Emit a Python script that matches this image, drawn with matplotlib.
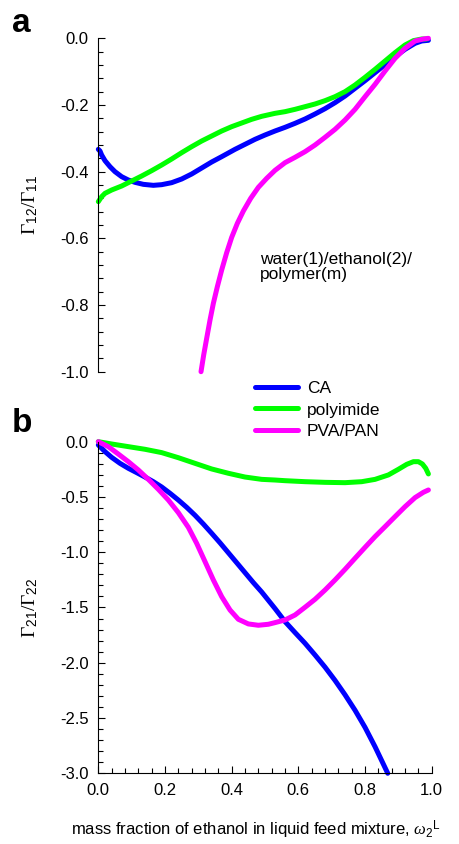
import matplotlib.pyplot as plt
from matplotlib.ticker import MultipleLocator

plt.rcParams['font.family'] = ['Liberation Sans', 'DejaVu Sans']
plt.rcParams['mathtext.fontset'] = 'custom'
plt.rcParams['mathtext.rm'] = 'Liberation Serif'
plt.rcParams['mathtext.it'] = 'Liberation Serif:italic'
plt.rcParams['mathtext.sf'] = 'Liberation Sans'

# panel a: Gamma12/Gamma11 vs ethanol mass fraction
ca_a_x = [0.0, 0.005, 0.01, 0.02, 0.035, 0.05, 0.07, 0.09, 0.11, 0.135, 0.165, 0.19,
          0.22, 0.25, 0.28, 0.31, 0.34, 0.37, 0.41, 0.44, 0.47, 0.50, 0.53, 0.56,
          0.59, 0.62, 0.65, 0.68, 0.71, 0.74, 0.77, 0.80, 0.83, 0.86, 0.89, 0.92,
          0.95, 0.97, 0.99]
ca_a_y = [-0.333, -0.338, -0.35, -0.367, -0.385, -0.40, -0.415, -0.425, -0.432, -0.438,
          -0.441, -0.439, -0.433, -0.422, -0.407, -0.389, -0.371, -0.355, -0.333, -0.318,
          -0.303, -0.29, -0.278, -0.267, -0.255, -0.242, -0.227, -0.211, -0.193, -0.173,
          -0.15, -0.127, -0.103, -0.079, -0.055, -0.033, -0.015, -0.008, -0.006]

pi_a_x = [0.0, 0.01, 0.02, 0.04, 0.07, 0.10, 0.13, 0.16, 0.19, 0.22, 0.25, 0.28,
          0.31, 0.34, 0.37, 0.40, 0.43, 0.46, 0.49, 0.53, 0.56, 0.59, 0.62, 0.65,
          0.68, 0.71, 0.74, 0.77, 0.80, 0.83, 0.86, 0.89, 0.92, 0.945, 0.97, 0.985]
pi_a_y = [-0.49, -0.475, -0.465, -0.455, -0.443, -0.428, -0.413, -0.397, -0.38, -0.362,
          -0.343, -0.325, -0.308, -0.293, -0.278, -0.265, -0.254, -0.243, -0.234, -0.225,
          -0.22, -0.213, -0.205, -0.197, -0.187, -0.175, -0.16, -0.14, -0.117, -0.093,
          -0.068, -0.043, -0.02, -0.007, -0.002, -0.002]

pp_a_x = [0.308, 0.316, 0.325, 0.335, 0.345, 0.357, 0.37, 0.385, 0.40, 0.417, 0.435,
          0.457, 0.48, 0.505, 0.53, 0.56, 0.59, 0.62, 0.65, 0.68, 0.71, 0.74, 0.77,
          0.80, 0.83, 0.86, 0.89, 0.92, 0.95, 0.975, 0.99]
pp_a_y = [-1.0, -0.95, -0.90, -0.845, -0.795, -0.745, -0.695, -0.643, -0.597, -0.555,
          -0.518, -0.48, -0.447, -0.42, -0.396, -0.373, -0.357, -0.34, -0.32, -0.297,
          -0.273, -0.245, -0.213, -0.175, -0.138, -0.098, -0.06, -0.03, -0.008, -0.002, 0.0]

# panel b: Gamma21/Gamma22
ca_b_x = [0.0, 0.02, 0.04, 0.065, 0.09, 0.115, 0.14, 0.165, 0.19, 0.215, 0.24, 0.265,
          0.29, 0.315, 0.34, 0.365, 0.39, 0.415, 0.44, 0.465, 0.49, 0.53, 0.56, 0.59,
          0.62, 0.65, 0.68, 0.71, 0.74, 0.77, 0.80, 0.83, 0.868]
ca_b_y = [-0.03, -0.09, -0.142, -0.196, -0.241, -0.28, -0.32, -0.362, -0.41, -0.467,
          -0.528, -0.594, -0.666, -0.745, -0.829, -0.915, -1.005, -1.095, -1.185, -1.275,
          -1.36, -1.51, -1.628, -1.727, -1.824, -1.93, -2.04, -2.16, -2.29, -2.43,
          -2.585, -2.76, -3.0]

pi_b_x = [0.0, 0.04, 0.09, 0.14, 0.19, 0.24, 0.29, 0.34, 0.39, 0.44, 0.49, 0.53,
          0.56, 0.62, 0.68, 0.74, 0.79, 0.83, 0.87, 0.90, 0.925, 0.945, 0.96, 0.972,
          0.982, 0.99]
pi_b_y = [0.0, -0.021, -0.045, -0.069, -0.099, -0.145, -0.196, -0.247, -0.286, -0.32,
          -0.341, -0.347, -0.353, -0.362, -0.368, -0.371, -0.362, -0.341, -0.301, -0.25,
          -0.205, -0.181, -0.181, -0.202, -0.241, -0.292]

pp_b_x = [0.0, 0.03, 0.06, 0.09, 0.12, 0.15, 0.18, 0.21, 0.24, 0.27, 0.295, 0.32,
          0.345, 0.37, 0.395, 0.42, 0.45, 0.48, 0.51, 0.53, 0.56, 0.59, 0.62, 0.65,
          0.68, 0.71, 0.74, 0.77, 0.80, 0.83, 0.86, 0.89, 0.92, 0.95, 0.975, 0.99]
pp_b_y = [0.0, -0.045, -0.112, -0.181, -0.256, -0.341, -0.431, -0.528, -0.642, -0.775,
          -0.92, -1.085, -1.251, -1.402, -1.523, -1.607, -1.649, -1.661, -1.652, -1.637,
          -1.613, -1.568, -1.498, -1.426, -1.342, -1.251, -1.155, -1.055, -0.956, -0.859,
          -0.769, -0.678, -0.588, -0.506, -0.458, -0.437]

labels = ['CA', 'polyimide', 'PVA/PAN']
colors = ['#0000ff', '#00ff00', '#ff00ff']

fig = plt.figure(figsize=(4.59, 8.44), dpi=100)
ax_a = fig.add_axes([0.2142, 0.5596, 0.7264, 0.3950])
ax_b = fig.add_axes([0.2142, 0.0838, 0.7264, 0.3929])

line_kw = dict(lw=3.6, solid_capstyle='round', solid_joinstyle='round', clip_on=False)

for (x, y), c, lab in zip([(ca_a_x, ca_a_y), (pi_a_x, pi_a_y), (pp_a_x, pp_a_y)], colors, labels):
    ax_a.plot(x, y, color=c, label=lab, **line_kw)
for (x, y), c in zip([(ca_b_x, ca_b_y), (pi_b_x, pi_b_y), (pp_b_x, pp_b_y)], colors):
    ax_b.plot(x, y, color=c, **line_kw)

for ax in (ax_a, ax_b):
    ax.set_xlim(0, 1.0)
    for s in ('top', 'right'):
        ax.spines[s].set_visible(False)
    for s in ('left', 'bottom'):
        ax.spines[s].set_linewidth(0.8)
    ax.tick_params(which='both', direction='in', width=0.8, labelsize=12, pad=7)
    ax.tick_params(which='major', length=5)
    ax.tick_params(which='minor', length=3.5)

# top panel shows only the y axis
ax_a.spines['bottom'].set_visible(False)
ax_a.set_xticks([])
ax_a.set_ylim(-1.0, 0.0)
ax_a.yaxis.set_major_locator(MultipleLocator(0.2))
ax_a.yaxis.set_minor_locator(MultipleLocator(0.04))
ax_a.yaxis.set_major_formatter(lambda v, p: f'{v:.1f}')
ax_a.set_ylabel(r'$\Gamma_{\mathsf{12}}/\Gamma_{\mathsf{11}}$', fontsize=14)
ax_a.yaxis.set_label_coords(-0.175, 0.5)
ax_a.text(0.485, -0.687, 'water(1)/ethanol(2)/\npolymer(m)', fontsize=12.5,
          ha='left', va='center', linespacing=1.0)

ax_b.set_ylim(-3.0, 0.0)
ax_b.yaxis.set_major_locator(MultipleLocator(0.5))
ax_b.yaxis.set_minor_locator(MultipleLocator(0.1))
ax_b.xaxis.set_major_locator(MultipleLocator(0.2))
ax_b.xaxis.set_minor_locator(MultipleLocator(0.04))
ax_b.yaxis.set_major_formatter(lambda v, p: f'{v:.1f}')
ax_b.xaxis.set_major_formatter(lambda v, p: f'{v:.1f}')
ax_b.set_ylabel(r'$\Gamma_{\mathsf{21}}/\Gamma_{\mathsf{22}}$', fontsize=14)
ax_b.yaxis.set_label_coords(-0.175, 0.5)
ax_b.set_xlabel(r'mass fraction of ethanol in liquid feed mixture, $\omega_{\mathsf{2}}{}^{\mathsf{L}}$',
                fontsize=12)
ax_b.xaxis.set_label_coords(0.473, -0.138)

handles, labs = ax_a.get_legend_handles_labels()
fig.legend(handles, labs, loc='upper left', bbox_to_anchor=(255 / 459, 1 - 381 / 844),
           frameon=False, fontsize=12.5, handlelength=2.5, handletextpad=0.5,
           labelspacing=0.36, borderpad=0, borderaxespad=0)

fig.text(0.026, 0.962, 'a', fontsize=24, fontweight='bold', va='baseline')
fig.text(0.026, 0.488, 'b', fontsize=24, fontweight='bold', va='baseline')

fig.savefig('out.png', dpi=100)
